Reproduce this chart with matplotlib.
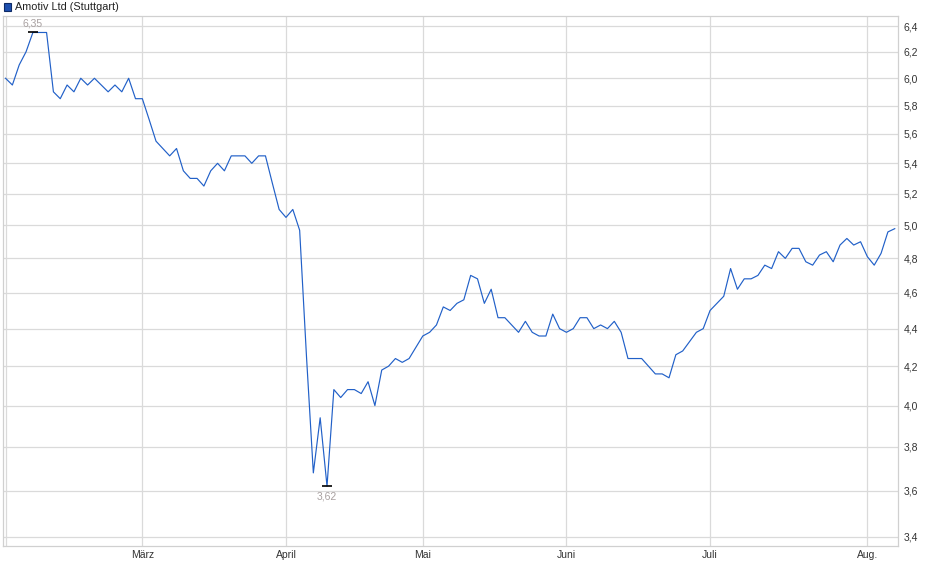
import numpy as np
import pandas as pd
import matplotlib
matplotlib.use('Agg')
import matplotlib.pyplot as plt
from matplotlib.ticker import FixedLocator, FuncFormatter, NullLocator
from matplotlib.patches import Rectangle

plt.rcParams['font.family'] = ['Liberation Sans', 'DejaVu Sans']

# trading days (Stuttgart), Feb 3 - Aug 7 2025
holidays = ['2025-04-18', '2025-04-21', '2025-05-01']
dates = pd.bdate_range('2025-02-03', '2025-08-07', freq='C', holidays=holidays)

prices = [6.00, 5.95, 6.10, 6.20, 6.35, 6.35, 6.35, 5.90, 5.85, 5.95,
          5.90, 6.00, 5.95, 6.00, 5.95, 5.90, 5.95, 5.90, 6.00, 5.85,
          5.85, 5.70, 5.55, 5.50, 5.45, 5.50, 5.35, 5.30, 5.30, 5.25,
          5.35, 5.40, 5.35, 5.45, 5.45, 5.45, 5.40, 5.45, 5.45, 5.27,
          5.10, 5.05, 5.10, 4.97, 4.25, 3.68, 3.94, 3.62, 4.08, 4.04,
          4.08, 4.08, 4.06, 4.12, 4.00, 4.18, 4.20, 4.24, 4.22, 4.24,
          4.30, 4.36, 4.38, 4.42, 4.52, 4.50, 4.54, 4.56, 4.70, 4.68,
          4.54, 4.62, 4.46, 4.46, 4.42, 4.38, 4.44, 4.38, 4.36, 4.36,
          4.48, 4.40, 4.38, 4.40, 4.46, 4.46, 4.40, 4.42, 4.40, 4.44,
          4.38, 4.24, 4.24, 4.24, 4.20, 4.16, 4.16, 4.14, 4.26, 4.28,
          4.33, 4.38, 4.40, 4.50, 4.54, 4.58, 4.74, 4.62, 4.68, 4.68,
          4.70, 4.76, 4.74, 4.84, 4.80, 4.86, 4.86, 4.78, 4.76, 4.82,
          4.84, 4.78, 4.88, 4.92, 4.88, 4.90, 4.81, 4.76, 4.83, 4.96,
          4.98]

month_names = {2: '', 3: 'März', 4: 'April', 5: 'Mai', 6: 'Juni', 7: 'Juli', 8: 'Aug.'}
y_ticks = [3.4, 3.6, 3.8, 4.0, 4.2, 4.4, 4.6, 4.8, 5.0, 5.2, 5.4, 5.6, 5.8, 6.0, 6.2, 6.4]

x = np.arange(len(prices))
y = np.array(prices)

# first trading day of each month
months = dates.month
month_pos = [i for i in range(len(dates)) if i == 0 or months[i] != months[i - 1]]
month_lab = [month_names[months[i]] for i in month_pos]

fig = plt.figure(figsize=(9.4, 5.79), dpi=100)
ax = fig.add_axes([3 / 940, 1 - 545.7 / 579, 895.3 / 940, 529.7 / 579])

grid_c = '#dadada'
ax.plot(x, y, color='#2160c8', lw=0.85, zorder=3)

ax.set_yscale('log')
ax.set_ylim(3.3626, 6.481)
ax.set_xlim(-0.37, 130.52)

ax.yaxis.set_major_locator(FixedLocator(y_ticks))
ax.yaxis.set_minor_locator(NullLocator())
ax.yaxis.set_major_formatter(FuncFormatter(lambda v, p: f'{v:.1f}'.replace('.', ',')))
ax.yaxis.tick_right()

ax.xaxis.set_major_locator(FixedLocator(month_pos))
ax.set_xticklabels(month_lab)

ax.tick_params(axis='both', length=0, labelsize=7.5, colors='#333333')
ax.tick_params(axis='y', pad=4)
ax.tick_params(axis='x', pad=3)
ax.grid(True, color=grid_c, lw=0.9, zorder=0)
for s in ax.spines.values():
    s.set_color('#d0d0d0')
    s.set_linewidth(0.9)

# high / low markers
imax = int(np.argmax(y))
imin = int(np.argmin(y))
ax.plot([x[imax]], [y[imax]], marker='_', ms=7, mew=1.2, color='black', zorder=4)
ax.plot([x[imin]], [y[imin]], marker='_', ms=7, mew=1.2, color='black', zorder=4)
lab_c = '#a8a0a0'
ax.annotate(f'{y[imax]:.2f}'.replace('.', ','), (x[imax], y[imax]),
            xytext=(0, 6.5), textcoords='offset points', ha='center', va='center',
            fontsize=7.5, color=lab_c, annotation_clip=False)
ax.annotate(f'{y[imin]:.2f}'.replace('.', ','), (x[imin], y[imin]),
            xytext=(0, -7.5), textcoords='offset points', ha='center', va='center',
            fontsize=7.5, color=lab_c, annotation_clip=False)

# legend
fig.add_artist(Rectangle((4 / 940, 1 - 10.5 / 579), 7 / 940, 7 / 579,
                         transform=fig.transFigure, facecolor='#1d4fae',
                         edgecolor='#0e2a66', lw=0.8))
fig.text(15 / 940, 1 - 7 / 579, 'Amotiv Ltd (Stuttgart)', fontsize=7.8,
         color='#222222', va='center', ha='left')

fig.savefig('out.png', dpi=100)
